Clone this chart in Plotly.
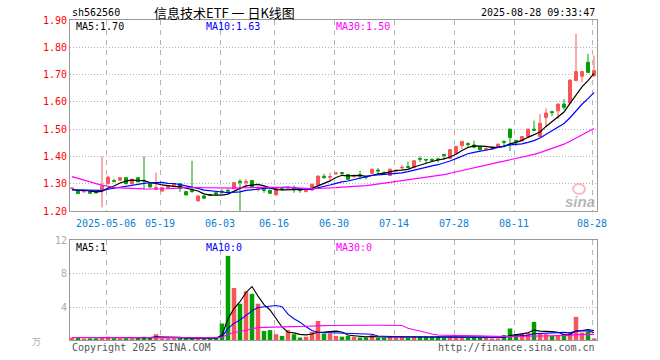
import plotly.graph_objects as go
import pandas as pd

# ---------------- data ----------------
dates = ["2025-04-23","2025-04-24","2025-04-25","2025-04-28","2025-04-29","2025-04-30",
         "2025-05-06","2025-05-07","2025-05-08","2025-05-09","2025-05-12","2025-05-13","2025-05-14","2025-05-15","2025-05-16",
         "2025-05-19","2025-05-20","2025-05-21","2025-05-22","2025-05-23","2025-05-26","2025-05-27","2025-05-28","2025-05-29","2025-05-30",
         "2025-06-03","2025-06-04","2025-06-05","2025-06-06","2025-06-09","2025-06-10","2025-06-11","2025-06-12","2025-06-13",
         "2025-06-16","2025-06-17","2025-06-18","2025-06-19","2025-06-20","2025-06-23","2025-06-24","2025-06-25","2025-06-26","2025-06-27",
         "2025-06-30","2025-07-01","2025-07-02","2025-07-03","2025-07-04","2025-07-07","2025-07-08","2025-07-09","2025-07-10","2025-07-11",
         "2025-07-14","2025-07-15","2025-07-16","2025-07-17","2025-07-18","2025-07-21","2025-07-22","2025-07-23","2025-07-24","2025-07-25",
         "2025-07-28","2025-07-29","2025-07-30","2025-07-31","2025-08-01","2025-08-04","2025-08-05","2025-08-06","2025-08-07","2025-08-08",
         "2025-08-11","2025-08-12","2025-08-13","2025-08-14","2025-08-15","2025-08-18","2025-08-19","2025-08-20","2025-08-21","2025-08-22",
         "2025-08-25","2025-08-26","2025-08-27","2025-08-28"]

open_ = [1.282,1.273,1.270,1.271,1.270,1.280,1.300,1.311,1.313,1.322,1.300,1.322,1.313,1.300,1.280,
         1.273,1.283,1.292,1.300,1.271,1.276,1.237,1.255,1.260,1.267,1.272,1.276,1.282,1.309,1.304,
         1.312,1.281,1.278,1.276,1.259,1.282,1.284,1.284,1.279,1.271,1.277,1.295,1.327,1.324,1.337,
         1.341,1.334,1.327,1.333,1.327,1.338,1.350,1.342,1.330,1.346,1.358,1.363,1.359,1.392,1.389,
         1.389,1.391,1.407,1.393,1.411,1.440,1.447,1.442,1.436,1.426,1.426,1.433,1.455,1.500,1.459,
         1.457,1.473,1.500,1.473,1.543,1.564,1.567,1.592,1.596,1.678,1.694,1.745,1.696]
high = [1.286,1.275,1.274,1.272,1.272,1.400,1.330,1.318,1.325,1.324,1.318,1.324,1.400,1.302,1.340,
        1.288,1.295,1.302,1.302,1.274,1.384,1.257,1.258,1.263,1.270,1.280,1.280,1.306,1.316,1.318,
        1.314,1.292,1.282,1.278,1.284,1.284,1.288,1.294,1.280,1.278,1.300,1.330,1.336,1.340,1.343,
        1.343,1.336,1.335,1.347,1.330,1.355,1.357,1.344,1.356,1.353,1.368,1.381,1.386,1.400,1.390,
        1.393,1.396,1.409,1.427,1.440,1.457,1.452,1.458,1.438,1.434,1.437,1.447,1.458,1.502,1.460,
        1.475,1.502,1.531,1.555,1.576,1.567,1.594,1.610,1.682,1.849,1.713,1.776,1.770]
low = [1.280,1.262,1.268,1.262,1.265,1.213,1.298,1.304,1.311,1.298,1.297,1.305,1.280,1.286,1.278,
       1.271,1.281,1.290,1.270,1.257,1.267,1.235,1.245,1.255,1.258,1.262,1.270,1.280,1.200,1.289,
       1.284,1.271,1.267,1.263,1.257,1.274,1.282,1.267,1.267,1.269,1.275,1.293,1.318,1.312,1.333,
       1.332,1.314,1.322,1.316,1.316,1.336,1.338,1.334,1.328,1.345,1.349,1.355,1.357,1.380,1.375,
       1.380,1.378,1.388,1.390,1.409,1.427,1.431,1.430,1.422,1.421,1.424,1.431,1.433,1.420,1.439,
       1.455,1.470,1.494,1.470,1.506,1.547,1.537,1.571,1.594,1.676,1.672,1.706,1.690]
close = [1.284,1.264,1.272,1.265,1.267,1.292,1.324,1.309,1.322,1.300,1.316,1.307,1.310,1.288,1.286,
         1.286,1.292,1.300,1.282,1.259,1.271,1.255,1.247,1.258,1.262,1.270,1.273,1.304,1.305,1.308,
         1.286,1.284,1.276,1.265,1.282,1.279,1.286,1.281,1.275,1.276,1.298,1.328,1.323,1.326,1.339,
         1.338,1.316,1.330,1.328,1.324,1.353,1.347,1.340,1.353,1.349,1.360,1.360,1.384,1.390,1.387,
         1.386,1.388,1.404,1.425,1.436,1.455,1.444,1.434,1.424,1.428,1.435,1.445,1.452,1.469,1.456,
         1.473,1.500,1.496,1.522,1.559,1.561,1.592,1.580,1.680,1.711,1.711,1.708,1.714]
volume = [0.3,0.3,0.2,0.2,0.2,0.3,0.4,0.2,0.2,0.2,0.2,0.3,0.4,0.35,0.7,
          0.2,0.2,0.2,0.3,0.2,0.25,0.2,0.2,0.2,0.3,2.0,10.2,6.3,4.4,5.9,
          5.6,4.4,1.1,1.2,0.7,0.5,1.2,0.7,0.3,0.4,1.0,2.3,0.8,0.8,0.5,
          0.4,0.5,0.4,0.3,0.3,0.6,0.3,0.3,0.5,0.3,0.4,0.3,0.4,0.4,0.4,
          0.4,0.4,0.3,0.4,0.4,0.4,0.3,0.4,0.3,0.3,0.2,0.2,0.6,1.4,0.7,
          0.8,0.9,2.2,0.8,0.7,0.5,0.5,0.7,0.9,2.8,0.9,1.0,0.2]
history_closes = [1.47,1.46,1.46,1.45,1.46,1.45,1.44,1.36,1.35,1.34,1.33,1.33,1.30,1.29,1.28,
                  1.27,1.25,1.22,1.24,1.26,1.27,1.28,1.28,1.27,1.28,1.28,1.27,1.28,1.28]

tick_dates = ["2025-05-06","2025-05-19","2025-06-03","2025-06-16","2025-06-30",
              "2025-07-14","2025-07-28","2025-08-11","2025-08-28"]
tick_labels = ["2025-05-06","05-19","06-03","06-16","06-30","07-14","07-28","08-11","08-28"]
price_ticks = [1.20,1.30,1.40,1.50,1.60,1.70,1.80,1.90]
vol_ticks = [4, 8, 12]

# ---------------- derived ----------------
n = len(dates)
idx = list(range(n))
allc = pd.Series(history_closes + close)
ma5 = allc.rolling(5, min_periods=1).mean().tolist()[-n:]
ma10 = allc.rolling(10, min_periods=1).mean().tolist()[-n:]
ma30 = allc.rolling(30, min_periods=1).mean().tolist()[-n:]
vs = pd.Series(volume)
vma5 = vs.rolling(5, min_periods=1).mean().tolist()
vma10 = vs.rolling(10, min_periods=1).mean().tolist()
vma30 = vs.rolling(30, min_periods=1).mean().tolist()

RED = "#f85656"
GREEN = "#00a000"
vcolors = [RED if c >= o else GREEN for o, c in zip(open_, close)]
tickpos = [dates.index(d) - 1/3 for d in tick_dates]

MONO = "DejaVu Sans Mono"

fig = go.Figure()
fig.add_trace(go.Candlestick(
    x=idx, open=open_, high=high, low=low, close=close,
    increasing=dict(line=dict(color=RED, width=1), fillcolor=RED),
    decreasing=dict(line=dict(color=GREEN, width=1), fillcolor=GREEN),
    whiskerwidth=0, xaxis="x", yaxis="y", hoverinfo="skip"))
for ys, col in [(ma5, "black"), (ma10, "#0000ff"), (ma30, "#ff00ff")]:
    fig.add_trace(go.Scatter(x=idx, y=ys, mode="lines", line=dict(color=col, width=1.2),
                             xaxis="x", yaxis="y", hoverinfo="skip"))
fig.add_trace(go.Bar(x=idx, y=volume, marker=dict(color=vcolors, line=dict(width=0)),
                     width=0.75, xaxis="x2", yaxis="y2", hoverinfo="skip"))
for ys, col in [(vma5, "black"), (vma10, "#0000ff"), (vma30, "#ff00ff")]:
    fig.add_trace(go.Scatter(x=idx, y=ys, mode="lines", line=dict(color=col, width=1.1),
                             xaxis="x2", yaxis="y2", hoverinfo="skip"))

L, R, T, B = 70, 597, 20, 340
W = R - L
H = B - T
def px(X): return (X - L) / W
def py(Y): return (B - Y) / H

xr = [-1/3, n - 0.5]
common_x = dict(range=xr, showline=True, mirror=True, linecolor="#999999", linewidth=1,
                showgrid=True, gridcolor="#b4b4b4", griddash="5px,5px", gridwidth=1,
                tickvals=tickpos, zeroline=False, fixedrange=True)
fig.update_layout(
    width=660, height=360,
    margin=dict(l=L, r=660 - R, t=T, b=360 - B),
    paper_bgcolor="white", plot_bgcolor="white",
    showlegend=False,
    xaxis=dict(**common_x, domain=[0, 1], anchor="y", ticktext=tick_labels,
               tickfont=dict(family=MONO, size=10, color="#0a7fd0"),
               ticks="outside", ticklen=3, tickcolor="rgba(0,0,0,0)",
               rangeslider=dict(visible=False)),
    yaxis=dict(domain=[py(211), 1], range=[1.20, 1.90], tickvals=price_ticks,
               ticktext=[f"{v:.2f}" for v in price_ticks],
               tickfont=dict(family=MONO, size=10, color="#ff0000"),
               showline=True, mirror=True, linecolor="#999999", fixedrange=True,
               showgrid=True, gridcolor="#b4b4b4", griddash="1px,2px", zeroline=False),
    xaxis2=dict(**common_x, domain=[0, 1], anchor="y2", matches="x", showticklabels=False),
    yaxis2=dict(domain=[0, py(240)], range=[0, 12.12], tickvals=vol_ticks,
                ticktext=[str(v) for v in vol_ticks],
                tickfont=dict(family=MONO, size=10, color="#aaaaaa"),
                showline=True, mirror=True, linecolor="#999999", fixedrange=True,
                showgrid=True, gridcolor="#b4b4b4", griddash="1px,2px", zeroline=False),
    bargap=0.25,
)

def txt(X, Y, s, color="black", size=10, xanchor="left", family=MONO, **kw):
    fig.add_annotation(x=px(X), y=py(Y), xref="paper", yref="paper", text=s, showarrow=False,
                       xanchor=xanchor, yanchor="middle",
                       font=dict(family=family, size=size, color=color), **kw)

txt(70, 12, "sh562560")
txt(224, 12, "信息技术ETF 一 日K线图", size=13, xanchor="center", family="Noto Sans CJK SC")
txt(597, 12, "2025-08-28 09:33:47", xanchor="right")
txt(74, 27, "MA5:1.70")
txt(204, 27, "MA10:1.63", color="#0000ff")
txt(334, 27, "MA30:1.50", color="#ff00ff")
txt(74, 247, "MA5:1")
txt(204, 247, "MA10:0", color="#0000ff")
txt(334, 247, "MA30:0", color="#ff00ff")
txt(70, 347, "Copyright 2025 SINA.COM", color="#555555", size=10)
txt(597, 347, "http://finance.sina.com.cn", color="#555555", size=10, xanchor="right")
txt(36, 341, "万", color="#aaaaaa", size=9, xanchor="center", family="Noto Sans CJK SC")
# sina watermark
fig.add_shape(type="circle", xref="paper", yref="paper",
              x0=px(573), x1=px(585), y0=py(194), y1=py(184),
              line=dict(color="rgba(235,110,110,0.45)", width=2))
txt(580, 201, "<b><i>sina</i></b>", color="rgba(160,160,160,0.75)", size=15,
    xanchor="center", family="Arial, Liberation Sans")

fig.write_html("out.html", config={"displayModeBar": False, "staticPlot": True},
               post_script="document.body.style.margin='0px';")
